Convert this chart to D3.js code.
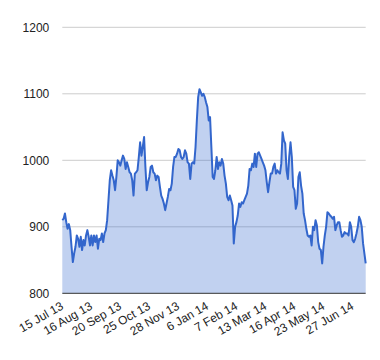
<!DOCTYPE html>
<html>
<head>
<meta charset="utf-8">
<script src="https://cdn.jsdelivr.net/npm/d3@7"></script>
<style>
html,body{margin:0;padding:0;background:#fff;}
svg{display:block;font-family:Arial,"Liberation Sans",sans-serif;}
</style>
</head>
<body>
<svg id="chart" width="380" height="360"></svg>
<script>
const tickLabels = ["15 Jul 13","16 Aug 13","20 Sep 13","25 Oct 13","28 Nov 13","6 Jan 14","7 Feb 14","13 Mar 14","16 Apr 14","23 May 14","27 Jun 14"];
const yTicks = [800, 900, 1000, 1100, 1200];
const values = [
910,912,920,907,897,904,895,870,847,860,870,887,882,870,885,865,880,872,887,895,
885,872,887,872,887,877,887,867,882,880,890,877,890,895,910,940,970,985,977,970,
955,975,1000,997,992,1000,1007,1002,987,997,990,982,980,970,947,980,982,985,1005,1027,
1007,1020,1035,990,955,967,975,990,992,982,980,970,977,975,960,947,942,935,925,935,
945,957,955,965,990,1005,1005,1010,1017,1015,1005,1002,1005,1015,1010,997,995,972,995,997,
995,1020,1060,1095,1107,1102,1097,1100,1095,1087,1080,1060,1065,1020,975,972,985,1005,987,997,
992,1002,995,977,965,945,940,947,940,932,875,900,907,917,935,930,937,935,940,945,
950,962,987,985,995,990,1010,990,1010,1012,1007,1002,997,992,985,967,952,967,980,980,
990,995,980,985,982,980,995,1042,1030,1025,985,972,1005,1027,1005,960,955,927,935,975,
982,962,950,920,910,897,887,885,887,872,900,895,910,902,877,867,865,845,870,887,
900,922,920,917,915,912,915,895,902,907,907,895,885,887,892,890,890,887,907,900,
880,877,882,890,900,915,910,900,875,860,845
];
const tickStep = 22;

const svg = d3.select("#chart");
const mLeft = 62.3, mRight = 365.7, mTop = 27.3, mBottom = 293.3;

const x = d3.scaleLinear().domain([0, values.length - 1]).range([mLeft, mRight]);
const y = d3.scaleLinear().domain([800, 1200]).range([mBottom, mTop]);

// gridlines
svg.append("g").selectAll("line").data(yTicks.filter(d => d !== 800)).join("line")
  .attr("x1", mLeft).attr("x2", mRight)
  .attr("y1", d => y(d)).attr("y2", d => y(d))
  .attr("stroke", "#cccccc").attr("stroke-width", 1);

// area
const area = d3.area().x((d, i) => x(i)).y0(y(800)).y1(d => y(d));
svg.append("path").datum(values).attr("d", area)
  .attr("fill", "#3366cc").attr("fill-opacity", 0.3);

// baseline
svg.append("line").attr("x1", mLeft).attr("x2", mRight)
  .attr("y1", y(800)).attr("y2", y(800))
  .attr("stroke", "#333333").attr("stroke-width", 1);

// line
const line = d3.line().x((d, i) => x(i)).y(d => y(d));
svg.append("path").datum(values).attr("d", line)
  .attr("fill", "none").attr("stroke", "#3366cc").attr("stroke-width", 2)
  .attr("stroke-linejoin", "round");

// y axis labels
const yAxis = d3.axisLeft(y).tickValues(yTicks).tickSize(0).tickPadding(13).tickFormat(d3.format("d"));
const yg = svg.append("g").attr("transform", `translate(${mLeft},0)`).call(yAxis);
yg.select(".domain").remove();
yg.selectAll("text").attr("font-size", 12).attr("fill", "#222222")
  .attr("font-family", "Arial, 'Liberation Sans', sans-serif");

// x axis labels
const xg = svg.append("g");
xg.selectAll("text").data(tickLabels).join("text")
  .attr("transform", (d, i) => `translate(${x(i * tickStep) + 2},${mBottom + 15}) rotate(-30)`)
  .attr("text-anchor", "end")
  .attr("font-size", 12).attr("fill", "#222222")
  .text(d => d);
</script>
</body>
</html>
